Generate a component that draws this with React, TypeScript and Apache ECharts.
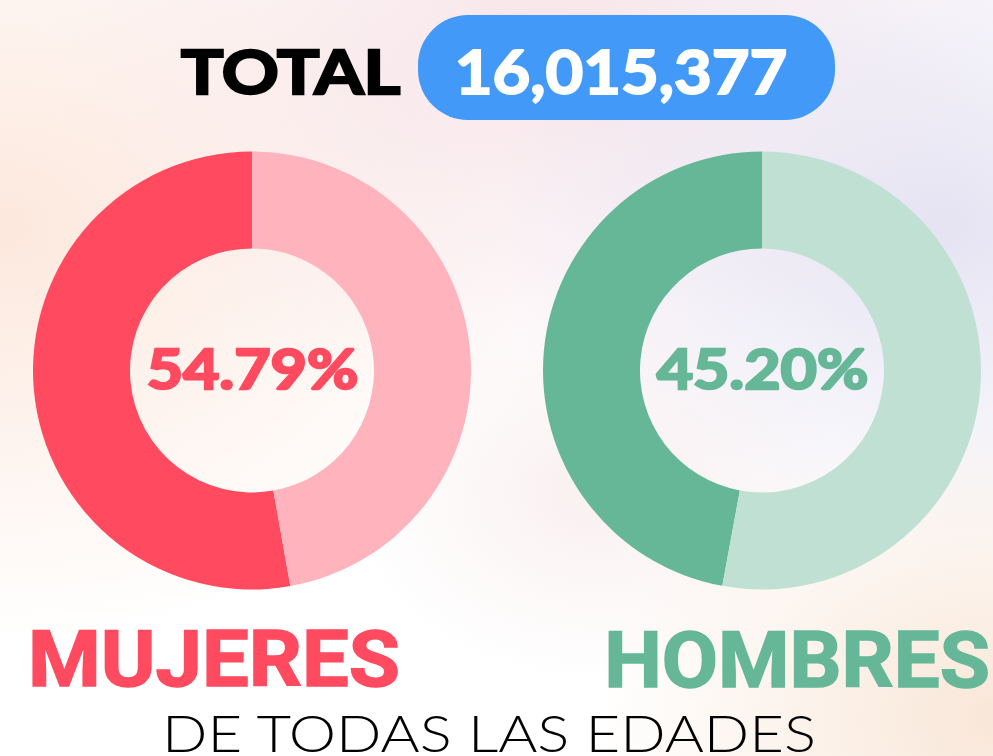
import React, { useEffect, useRef } from "react";
import * as echarts from "echarts";

const totalLabel = "TOTAL";
const totalValue = "16,015,377";
const groups = ["MUJERES", "HOMBRES"];
const shareLabels = ["54.79%", "45.20%"];
// slice sizes as drawn in the reference donuts (percent of the ring)
const drawnShares = [52.8, 47.1];
const subtitle = "DE TODAS LAS EDADES";
const mainColors = ["#ff4a5f", "#65b797"];
const lightColors = ["#ffb3bc", "#c0e0d4"];

export default function App() {
  const ref = useRef<HTMLDivElement>(null);
  useEffect(() => {
    document.body.style.margin = "0";
    const chart = echarts.init(ref.current!, undefined, { renderer: "svg" });
    const centers = [252, 762];
    const series = groups.map((g, i) => ({
      type: "pie",
      center: [centers[i], 370.5],
      radius: [122, 219],
      startAngle: 90,
      clockwise: false,
      silent: true,
      label: { show: false },
      labelLine: { show: false },
      itemStyle: { borderWidth: 0 },
      data: [
        { name: g, value: drawnShares[i], itemStyle: { color: mainColors[i] } },
        { name: "resto", value: +(100 - drawnShares[i]).toFixed(2), itemStyle: { color: lightColors[i] } },
      ],
    }));
    const radial = (cx: number, cy: number, r: number, color: string) => ({
      type: "rect",
      shape: { x: 0, y: 0, width: 993, height: 756 },
      silent: true,
      style: {
        fill: new echarts.graphic.RadialGradient(cx, cy, r, [
          { offset: 0, color },
          { offset: 1, color: color.replace(/[\d.]+\)$/, "0)") },
        ]),
      },
    });
    const heavy = (fill: string, w: number) => ({ fill, stroke: fill, lineWidth: w });
    chart.setOption({
      animation: false,
      backgroundColor: "#ffffff",
      graphic: [
        radial(0.0, 0.3, 0.55, "rgba(252,228,215,0.85)"),
        radial(0.55, 0.05, 0.5, "rgba(245,222,228,0.8)"),
        radial(0.95, 0.3, 0.45, "rgba(228,226,242,0.95)"),
        radial(1.0, 0.95, 0.4, "rgba(248,228,212,0.9)"),
        radial(0.6, 0.65, 0.25, "rgba(246,230,230,0.6)"),
        {
          type: "rect",
          shape: { x: 418, y: 15, width: 417, height: 105, r: 50 },
          style: { fill: "#4299f8" },
        },
        {
          type: "text",
          x: 181,
          y: 70,
          scaleX: 1.14,
          style: {
            text: totalLabel,
            font: "bold 62px Lato",
            ...heavy("#000000", 2.5),
            textAlign: "left",
            textVerticalAlign: "middle",
          },
        },
        {
          type: "text",
          x: 621,
          y: 70,
          scaleX: 1.05,
          style: {
            text: totalValue,
            font: "bold 62px Lato",
            ...heavy("#ffffff", 2),
            textAlign: "center",
            textVerticalAlign: "middle",
          },
        },
        ...shareLabels.map((t, i) => ({
          type: "text",
          x: centers[i] + 0.5,
          y: 367,
          z: 10,
          scaleX: 1.12,
          style: {
            text: t,
            font: "bold 56px Lato",
            ...heavy(mainColors[i], 2.5),
            textAlign: "center",
            textVerticalAlign: "middle",
          },
        })),
        {
          type: "text",
          x: 28,
          y: 660.5,
          scaleX: 1.08,
          style: {
            text: groups[0],
            font: "bold 77px Roboto",
            ...heavy(mainColors[0], 1.5),
            textAlign: "left",
            textVerticalAlign: "middle",
          },
        },
        {
          type: "text",
          x: 990,
          y: 660.5,
          scaleX: 1.06,
          style: {
            text: groups[1],
            font: "bold 77px Roboto",
            ...heavy(mainColors[1], 1.5),
            textAlign: "right",
            textVerticalAlign: "middle",
          },
        },
        {
          type: "text",
          x: 489,
          y: 732,
          scaleX: 1.15,
          style: {
            text: subtitle,
            font: "300 52px Lato",
            fill: "#000000",
            textAlign: "center",
            textVerticalAlign: "middle",
          },
        },
      ],
      series,
    });
    return () => chart.dispose();
  }, []);
  return <div ref={ref} style={{ width: 993, height: 756 }} />;
}
